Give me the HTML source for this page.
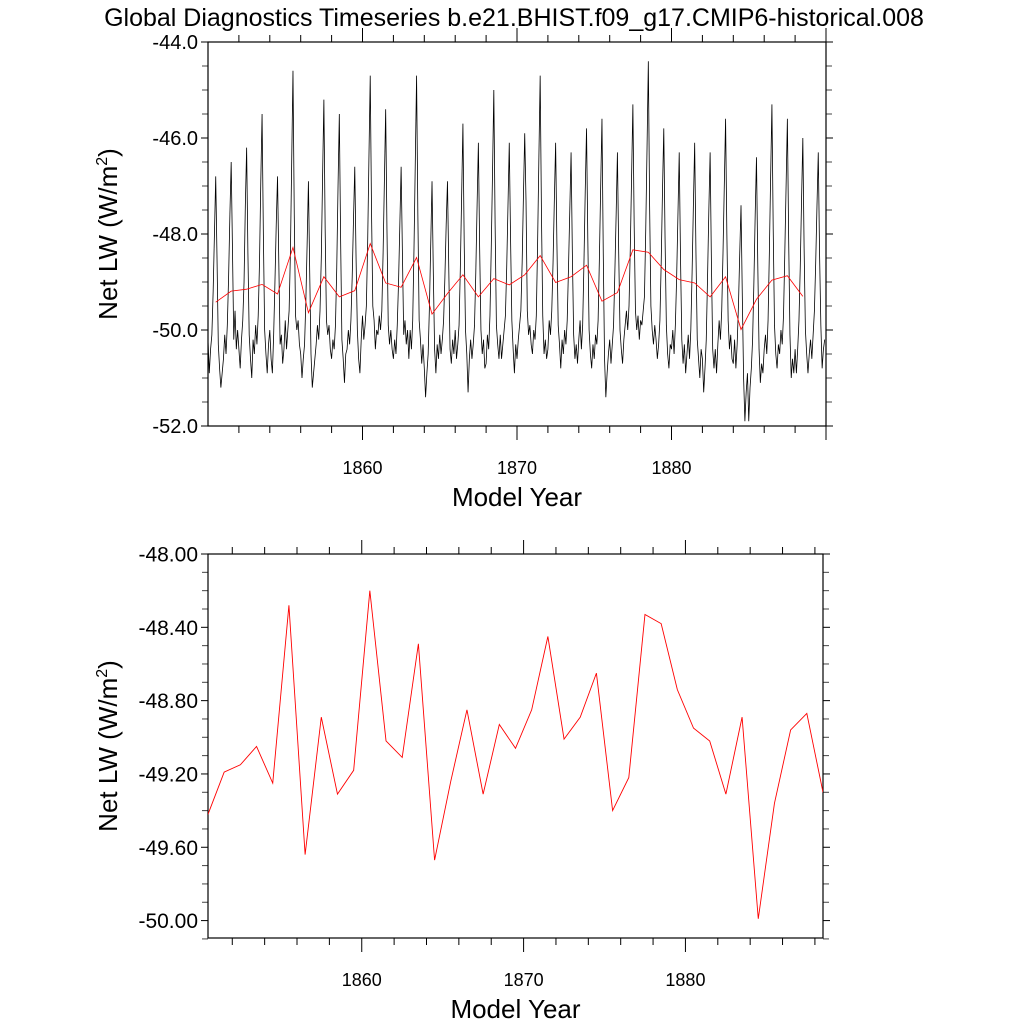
<!DOCTYPE html>
<html><head><meta charset="utf-8"><style>
html,body{margin:0;padding:0;background:#fff;}
svg{display:block;font-family:"Liberation Sans",sans-serif;}
</style></head><body>
<svg id="chart" width="1024" height="1024" viewBox="0 0 1024 1024" xmlns="http://www.w3.org/2000/svg">
<text x="514" y="26" font-size="25" text-anchor="middle">Global Diagnostics Timeseries b.e21.BHIST.f09_g17.CMIP6-historical.008</text>
<g id="topPanel"></g>
<g id="botPanel"></g>
</svg>
<script>
const monthlyValues = [
-50.2,-50.9,-50.4,-50.1,-49.2,-48.0,-46.8,-48.5,-50.3,-50.8,-51.2,-50.9,
-50.6,-50.1,-50.5,-49.9,-48.9,-47.6,-46.5,-48.3,-50.2,-49.6,-50.4,-50.0,
-50.4,-50.8,-50.2,-49.8,-49.0,-47.4,-46.2,-48.4,-50.1,-50.6,-51.0,-50.2,
-50.5,-49.9,-50.3,-49.7,-48.6,-46.9,-45.5,-48.0,-50.0,-50.5,-50.9,-50.3,
-50.0,-50.6,-50.9,-50.1,-49.0,-47.8,-46.8,-48.6,-50.3,-50.1,-50.7,-50.4,
-49.8,-50.4,-50.0,-49.6,-48.4,-46.5,-44.6,-47.6,-49.7,-50.0,-49.8,-50.3,
-50.5,-51.0,-50.6,-50.3,-49.4,-48.2,-46.9,-48.8,-50.5,-51.2,-50.9,-50.6,
-50.3,-49.9,-50.2,-49.6,-48.5,-46.8,-45.2,-47.9,-49.8,-50.1,-49.9,-50.4,
-50.6,-50.2,-50.4,-49.9,-48.7,-47.0,-45.5,-48.1,-50.2,-50.6,-51.1,-50.5,
-50.4,-50.0,-50.3,-49.8,-48.9,-47.7,-46.6,-48.5,-50.0,-50.6,-50.9,-50.2,
-49.7,-50.2,-49.9,-49.5,-48.2,-46.4,-44.7,-47.5,-49.5,-49.8,-50.4,-50.0,
-50.1,-49.7,-50.0,-49.6,-48.4,-46.9,-45.4,-47.9,-49.9,-50.3,-50.0,-50.4,
-50.6,-50.2,-50.5,-49.9,-49.0,-47.8,-46.6,-48.4,-50.1,-49.8,-50.3,-50.0,
-50.6,-50.0,-50.4,-49.8,-48.3,-46.5,-44.7,-47.6,-49.8,-50.2,-50.7,-50.3,
-50.8,-51.4,-50.9,-50.5,-49.5,-48.2,-46.9,-48.8,-50.4,-50.9,-50.3,-50.6,
-50.1,-50.5,-50.2,-49.8,-48.9,-47.8,-46.9,-48.7,-50.4,-50.7,-50.2,-50.5,
-50.0,-50.6,-50.3,-49.9,-48.7,-47.2,-45.7,-48.2,-50.0,-50.5,-51.3,-50.6,
-50.2,-50.6,-50.3,-49.9,-48.8,-47.4,-46.1,-48.3,-50.0,-50.5,-50.2,-50.8,
-50.7,-50.1,-50.4,-49.7,-48.3,-46.7,-45.0,-47.8,-49.9,-50.3,-50.6,-50.1,
-50.6,-50.3,-50.0,-49.7,-48.7,-47.4,-46.1,-48.1,-49.8,-50.4,-50.9,-50.3,
-50.6,-50.2,-49.9,-49.6,-48.6,-47.2,-45.9,-47.3,-49.6,-50.1,-49.9,-50.3,
-50.5,-50.0,-50.2,-49.7,-48.2,-46.4,-44.7,-47.6,-49.7,-50.5,-50.2,-50.6,
-50.4,-49.8,-50.1,-49.6,-48.6,-47.3,-46.1,-48.2,-49.9,-50.3,-50.8,-50.2,
-50.5,-50.0,-50.3,-49.8,-48.7,-47.5,-46.3,-48.4,-50.1,-50.6,-50.3,-50.7,
-50.2,-49.8,-50.4,-49.9,-48.6,-47.1,-45.8,-48.1,-50.0,-50.5,-50.8,-50.3,
-50.6,-50.1,-50.3,-49.8,-48.5,-47.0,-45.6,-48.4,-50.6,-51.4,-50.9,-50.5,
-50.2,-50.7,-50.3,-49.9,-48.8,-47.6,-46.3,-48.4,-50.0,-50.4,-50.7,-50.2,
-49.9,-49.6,-50.0,-49.5,-48.3,-46.8,-45.3,-47.8,-49.6,-50.0,-49.7,-50.2,
-49.8,-49.9,-49.6,-49.3,-47.9,-46.2,-44.4,-47.4,-49.5,-50.0,-50.3,-49.9,
-50.2,-50.6,-50.3,-49.8,-48.6,-47.1,-45.8,-48.1,-49.9,-50.5,-50.8,-50.3,
-50.4,-50.0,-50.5,-49.9,-48.9,-47.6,-46.3,-48.5,-50.2,-50.7,-50.3,-50.9,
-50.5,-50.1,-50.6,-50.0,-48.8,-47.4,-46.1,-48.4,-50.2,-50.6,-51.0,-50.4,
-50.6,-51.3,-50.8,-50.2,-48.9,-47.5,-46.3,-48.6,-50.4,-50.8,-50.4,-50.9,
-50.3,-49.8,-50.2,-49.6,-48.4,-47.0,-45.6,-48.0,-49.8,-50.4,-50.1,-50.6,
-50.7,-50.2,-50.8,-50.3,-49.5,-48.4,-47.4,-49.3,-51.0,-51.9,-51.3,-50.9,
-51.9,-51.2,-50.8,-50.2,-49.0,-47.6,-46.4,-48.6,-50.4,-51.1,-50.7,-50.9,
-50.4,-50.1,-50.5,-49.8,-48.4,-46.8,-45.3,-47.9,-49.9,-50.5,-50.8,-50.3,
-50.5,-50.0,-50.3,-49.7,-48.4,-47.0,-45.6,-48.1,-50.1,-51.0,-50.6,-50.9,
-50.4,-50.9,-50.4,-49.8,-48.7,-47.3,-46.0,-48.3,-50.0,-50.5,-50.9,-50.5,
-50.2,-50.6,-50.1,-49.6,-48.6,-47.4,-46.3,-48.4,-49.9,-50.8,-50.4,-50.2
];
const monthlyStartYear = 1850;
const annualStartYear = 1850;
const annualValues = [-49.42,-49.19,-49.15,-49.05,-49.25,-48.28,-49.64,-48.89,-49.31,-49.18,-48.20,-49.02,-49.11,-48.49,-49.67,-49.24,-48.85,-49.31,-48.93,-49.06,-48.85,-48.45,-49.01,-48.89,-48.65,-49.40,-49.22,-48.33,-48.38,-48.74,-48.95,-49.02,-49.31,-48.89,-49.99,-49.36,-48.96,-48.87,-49.30];
const xTickLabels = ["1860","1870","1880"];
const topYTickLabels = ["-44.0","-46.0","-48.0","-50.0","-52.0"];
const botYTickLabels = ["-48.00","-48.40","-48.80","-49.20","-49.60","-50.00"];

const NS = "http://www.w3.org/2000/svg";
function mk(parent, tag, attrs){const e=document.createElementNS(NS,tag);for(const k in attrs)e.setAttribute(k,attrs[k]);parent.appendChild(e);return e;}

function panel(g, box, xr, yr, yMajor, yMinor, yLabels, idp, yfs){
  const sx = v => box.l + (v - xr[0])/(xr[1]-xr[0])*(box.r-box.l);
  const sy = v => box.t + (yr[0] - v)/(yr[0]-yr[1])*(box.b-box.t);
  const clipId = idp+"clip";
  const defs = mk(g,"defs",{});
  const cp = mk(defs,"clipPath",{id:clipId});
  mk(cp,"rect",{x:box.l,y:box.t,width:box.r-box.l,height:box.b-box.t});
  for(let yv=1852; yv<=Math.floor(xr[1]); yv+=2){
    if(yv<xr[0]) continue;
    const x=sx(yv); const maj = yv%10===0; const L = maj?14:7;
    const t1=mk(g,"line",{x1:x,x2:x,y1:box.b,y2:box.b+L,stroke:"#000","stroke-width":1});
    
    
    const t2=mk(g,"line",{x1:x,x2:x,y1:box.t,y2:box.t-L,stroke:"#000","stroke-width":1});
    
    
  }
  xTickLabels.forEach(s=>{
    const t=mk(g,"text",{x:sx(+s),y:box.b+48,"font-size":"18","text-anchor":"middle"});
    t.textContent=s;
    
    
  });
  const n = Math.round((yr[0]-yr[1])/yMinor);
  for(let i=0;i<=n;i++){
    const v=yr[0]-i*yMinor; const y=sy(v);
    const maj = Math.abs((yr[0]-v)/yMajor - Math.round((yr[0]-v)/yMajor))<1e-6;
    const L = maj?7:6;
    const a=mk(g,"line",{x1:box.l-L,x2:box.l,y1:y,y2:y,stroke:maj?"#000":"#444","stroke-width":1});
    
    
    const b=mk(g,"line",{x1:box.r,x2:box.r+L,y1:y,y2:y,stroke:maj?"#000":"#444","stroke-width":1});
    
    
  }
  yLabels.forEach(s=>{
    const t=mk(g,"text",{x:box.l-10,y:sy(+s)+yfs*0.36,"font-size":yfs,"text-anchor":"end"});
    t.textContent=s;
    
    
  });
  const fr=mk(g,"rect",{x:box.l,y:box.t,width:box.r-box.l,height:box.b-box.t,fill:"none",stroke:"#000","stroke-width":1.2});
  
  
  const xt=mk(g,"text",{x:(box.l+box.r)/2,y:box.b+80,"font-size":"26","text-anchor":"middle"});
  xt.textContent="Model Year";
  
  
  const cy=(box.t+box.b)/2;
  const yt=mk(g,"text",{x:0,y:0,"font-size":"26","text-anchor":"middle",transform:`translate(117,${cy}) rotate(-90)`});
  yt.innerHTML='Net LW (W/m<tspan dy="-10" font-size="16">2</tspan><tspan dy="10">)</tspan>';
  
  
  return {sx,sy,clipId};
}

const topG = document.getElementById('topPanel');
const P1 = panel(topG,{l:208,r:826,t:42,b:426},[1850,1890],[-44,-52],2,0.5,topYTickLabels,"t",20);
let d="";
monthlyValues.forEach((v,i)=>{const x=P1.sx(monthlyStartYear+i/12), y=P1.sy(v); d+=(i?"L":"M")+x.toFixed(2)+","+y.toFixed(2);});
const ml=mk(topG,"path",{d,fill:"none",stroke:"#000","stroke-width":0.8,"clip-path":`url(#${P1.clipId})`});


d="";
annualValues.forEach((v,i)=>{const x=P1.sx(annualStartYear+i+0.5), y=P1.sy(v); d+=(i?"L":"M")+x.toFixed(2)+","+y.toFixed(2);});
const al=mk(topG,"path",{d,fill:"none",stroke:"#ff0000","stroke-width":0.8,"clip-path":`url(#${P1.clipId})`});



const botG = document.getElementById('botPanel');
const P2 = panel(botG,{l:208,r:823,t:554,b:938},[1850.5,1888.5],[-48,-50.095],0.4,0.1,botYTickLabels,"b",21);
d="";
annualValues.forEach((v,i)=>{const x=P2.sx(annualStartYear+i+0.5), y=P2.sy(v); d+=(i?"L":"M")+x.toFixed(2)+","+y.toFixed(2);});
const bl=mk(botG,"path",{d,fill:"none",stroke:"#ff0000","stroke-width":0.9,"clip-path":`url(#${P2.clipId})`});


</script>
</body></html>
